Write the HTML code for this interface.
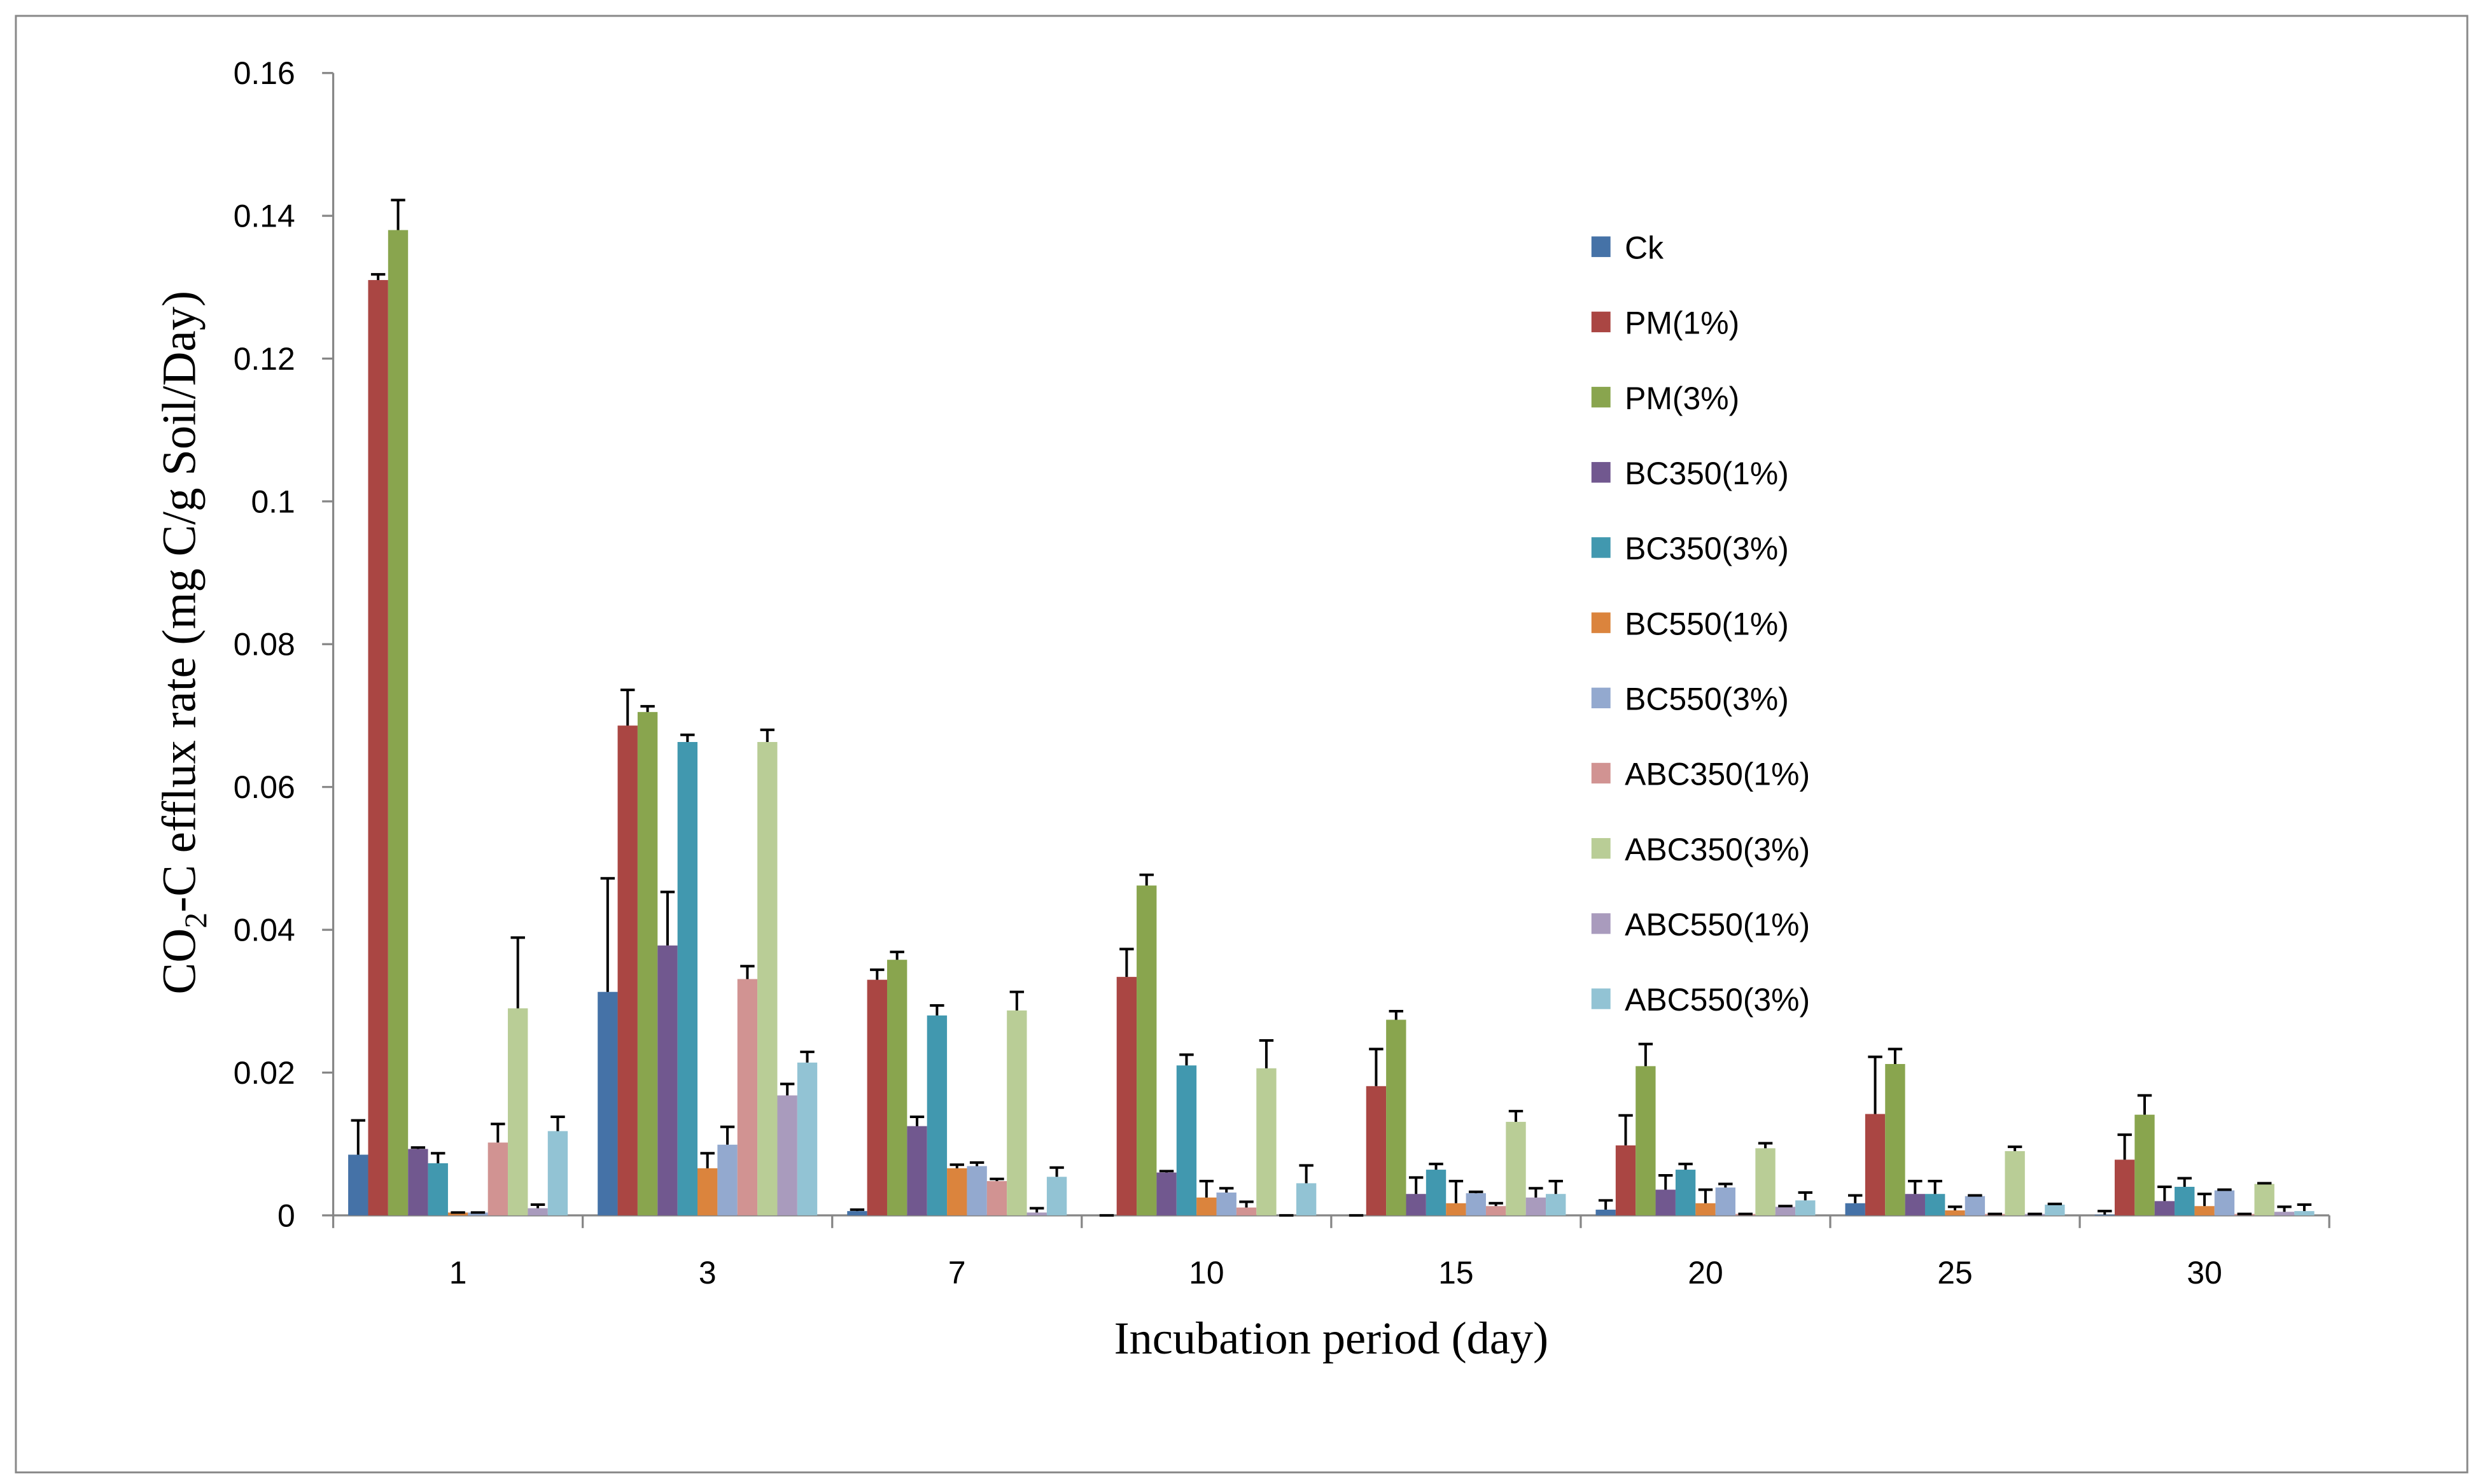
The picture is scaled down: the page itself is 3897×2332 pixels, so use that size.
<!DOCTYPE html>
<html><head><meta charset="utf-8"><style>
html,body{margin:0;padding:0;background:#fff;}
svg{display:block;}
</style></head><body>
<svg id="chart" width="3897" height="2332" viewBox="0 0 1563 935.3" xmlns="http://www.w3.org/2000/svg">
<rect x="10" y="10" width="1545" height="918" fill="#fff" stroke="#888" stroke-width="1.2"/>
<g id="plot"></g>
<text x="839" y="853" text-anchor="middle" font-family="Liberation Serif, serif" font-size="29">Incubation period (day)</text>
<text transform="translate(123,405) rotate(-90)" text-anchor="middle" font-family="Liberation Serif, serif" font-size="30">CO<tspan font-size="20" dy="7">2</tspan><tspan dy="-7">-C efflux rate (mg C/g Soil/Day)</tspan></text>
<g id="legend"></g>
</svg>
<script>
const categories = ["1","3","7","10","15","20","25","30"];
const seriesNames = ["Ck","PM(1%)","PM(3%)","BC350(1%)","BC350(3%)","BC550(1%)","BC550(3%)","ABC350(1%)","ABC350(3%)","ABC550(1%)","ABC550(3%)"];
const seriesColors = ["#4572A7","#AA4643","#89A54E","#71588F","#4198AF","#DB843D","#93A9CF","#D19392","#B9CD96","#A99BBD","#92C3D4"];
const yTicks = [0,0.02,0.04,0.06,0.08,0.1,0.12,0.14,0.16];
const yTickLabels = ["0","0.02","0.04","0.06","0.08","0.1","0.12","0.14","0.16"];
const ck      = [0.0085,0.0313,0.0006,0,0,0.0008,0.0017,0.0001];
const pm1     = [0.131,0.0686,0.033,0.0334,0.0181,0.0098,0.0142,0.0078];
const pm3     = [0.138,0.0705,0.0358,0.0462,0.0274,0.0209,0.0212,0.0141];
const bc350_1 = [0.0093,0.0378,0.0125,0.006,0.003,0.0036,0.003,0.002];
const bc350_3 = [0.0073,0.0663,0.028,0.021,0.0064,0.0064,0.003,0.004];
const bc550_1 = [0.0004,0.0066,0.0066,0.0025,0.0017,0.0017,0.0007,0.0013];
const bc550_3 = [0.0004,0.0099,0.0069,0.0032,0.0031,0.0039,0.0027,0.0035];
const abc350_1= [0.0102,0.0331,0.0048,0.0011,0.0013,0.0002,0.0002,0.0002];
const abc350_3= [0.029,0.0663,0.0287,0.0206,0.0131,0.0094,0.009,0.0044];
const abc550_1= [0.001,0.0168,0.0004,0,0.0025,0.0012,0.0002,0.0005];
const abc550_3= [0.0118,0.0214,0.0054,0.0045,0.003,0.0021,0.0015,0.0006];
const ckErr      = [0.0048,0.0159,0.0002,0,0,0.0013,0.0011,0.0005];
const pm1Err     = [0.0008,0.005,0.0014,0.0039,0.0052,0.0042,0.008,0.0035];
const pm3Err     = [0.0042,0.0008,0.0011,0.0015,0.0012,0.0031,0.0021,0.0027];
const bc350_1Err = [0.0002,0.0075,0.0013,0.0002,0.0023,0.002,0.0018,0.002];
const bc350_3Err = [0.0014,0.001,0.0014,0.0015,0.0008,0.0008,0.0018,0.0012];
const bc550_1Err = [0,0.0021,0.0005,0.0023,0.0031,0.0019,0.0005,0.0017];
const bc550_3Err = [0,0.0025,0.0005,0.0006,0.0002,0.0005,0.0001,0.0001];
const abc350_1Err= [0.0026,0.0018,0.0003,0.0008,0.0004,0,0,0];
const abc350_3Err= [0.0099,0.0017,0.0026,0.0039,0.0015,0.0007,0.0006,0.0001];
const abc550_1Err= [0.0005,0.0016,0.0006,0,0.0013,0.0001,0,0.0007];
const abc550_3Err= [0.002,0.0015,0.0013,0.0025,0.0018,0.0011,0.0001,0.0009];

const values = [ck,pm1,pm3,bc350_1,bc350_3,bc550_1,bc550_3,abc350_1,abc350_3,abc550_1,abc550_3];
const errors = [ckErr,pm1Err,pm3Err,bc350_1Err,bc350_3Err,bc550_1Err,bc550_3Err,abc350_1Err,abc350_3Err,abc550_1Err,abc550_3Err];

const NS="http://www.w3.org/2000/svg";
const X0=210,X1=1468,Y0=766,YT=46,YMAX=0.16;
const groupW=(X1-X0)/categories.length;
const barW=groupW/12.5;
const yScale=v=>Y0-(v/YMAX)*(Y0-YT);
const xGroup=i=>X0+i*groupW;
const plot=document.getElementById('plot');
function mk(tag,attrs,parent){const e=document.createElementNS(NS,tag);for(const k in attrs)e.setAttribute(k,attrs[k]);(parent||plot).appendChild(e);return e;}

let ax=mk('line',{x1:X0,y1:YT,x2:X0,y2:Y0,stroke:'#868686','stroke-width':1.3});


yTicks.forEach((t,i)=>{
  const y=yScale(t);
  const tk=mk('line',{x1:X0-7,y1:y,x2:X0,y2:y,stroke:'#868686','stroke-width':1.3});
  
  
  const tx=mk('text',{x:X0-24,y:y+7,'text-anchor':'end','font-family':'Liberation Sans, sans-serif','font-size':20});
  tx.textContent=yTickLabels[i];
  
  
});
let xa=mk('line',{x1:X0,y1:Y0,x2:X1,y2:Y0,stroke:'#868686','stroke-width':1.3});


for(let i=0;i<=categories.length;i++){
  const tk=mk('line',{x1:xGroup(i),y1:Y0,x2:xGroup(i),y2:Y0+8,stroke:'#868686','stroke-width':1.3});
  
  
}
categories.forEach((c,i)=>{
  const tx=mk('text',{x:xGroup(i)+groupW/2,y:Y0+43,'text-anchor':'middle','font-family':'Liberation Sans, sans-serif','font-size':20});
  tx.textContent=c;
  
  
});
values.forEach((arr,s)=>{
  arr.forEach((v,i)=>{
    const x=xGroup(i)+(groupW-11*barW)/2+s*barW;
    const y=yScale(v);
    const r=mk('rect',{x:x,y:y,width:barW,height:Math.max(0,Y0-y),fill:seriesColors[s]});
    
    
    const e=errors[s][i];
    const ye=yScale(v+e), cx=x+barW/2;
    const eb=mk('path',{d:`M${cx},${y}V${ye}M${cx-4.5},${ye}H${cx+4.5}`,stroke:'#000','stroke-width':1.6,fill:'none'});
    
    
  });
});
const lg=document.getElementById('legend');
seriesNames.forEach((n,s)=>{
  const y=156+s*47.4;
  const sq=mk('rect',{x:1003,y:y-7,width:12,height:13,fill:seriesColors[s]},lg);
  
  
  const t=mk('text',{x:1024,y:y+7,'font-family':'Liberation Sans, sans-serif','font-size':20},lg);
  t.textContent=n;
  
  
});
</script>
</body></html>
